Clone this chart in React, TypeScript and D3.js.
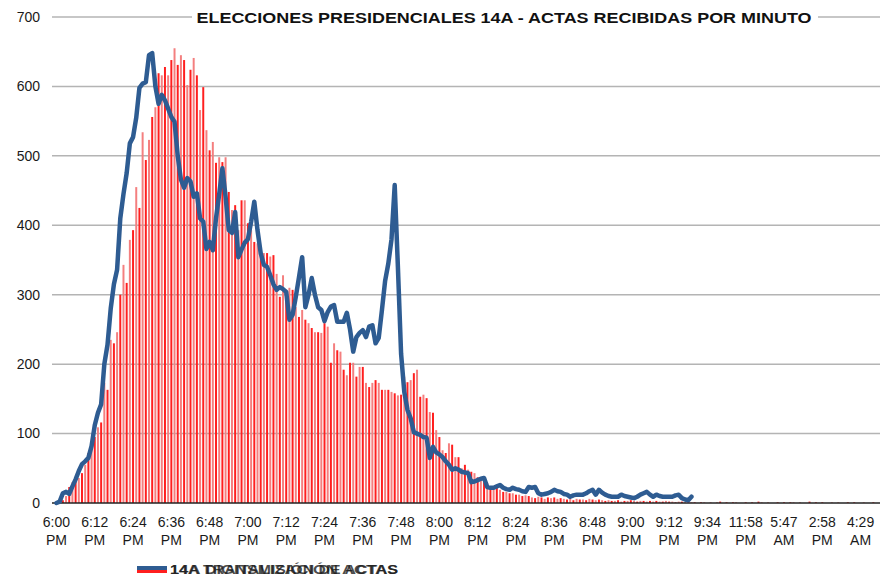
import * as d3 from 'd3';
import React, { useEffect, useRef } from 'react';

// actas recibidas por minuto (barras), desde las 6:00 PM
const receivedPerMinute = [
  0, 0, 4, 10, 23, 30, 33, 36, 43, 55, 72, 86, 95, 109, 116, 173, 163, 235, 230, 246,
  300, 343, 317, 379, 393, 455, 425, 534, 494, 523, 556, 570, 619, 616, 628, 616, 638, 655, 631, 645,
  638, 602, 624, 641, 616, 566, 599, 537, 508, 520, 490, 498, 491, 498, 448, 422, 429, 393, 436, 436,
  403, 393, 376, 374, 364, 360, 360, 355, 357, 330, 297, 328, 307, 310, 307, 282, 268, 278, 264, 259,
  252, 246, 246, 245, 259, 254, 202, 230, 220, 218, 192, 184, 202, 202, 182, 196, 196, 173, 167, 173,
  177, 173, 163, 163, 163, 160, 158, 155, 156, 182, 174, 177, 187, 192, 153, 156, 151, 131, 130, 105,
  95, 76, 72, 86, 84, 66, 66, 50, 55, 48, 45, 43, 37, 33, 30, 29, 23, 22, 23, 19,
  16, 16, 14, 14, 12, 12, 10, 11, 10, 8, 7, 9, 8, 6, 8, 7, 8, 6, 7, 6,
  5, 6, 4, 6, 5, 5, 4, 6, 5, 4, 5, 4, 3, 4, 3, 3, 4, 2, 3, 3,
  4, 3, 2, 3, 3, 2, 3, 2, 3, 2, 2, 3, 2, 2, 1, 2, 2, 1, 2, 1,
  1, 0, 1, 1, 0, 1, 0, 1, 2, 0, 1, 0, 1, 1, 0, 0, 1, 0, 1, 0,
  2, 1, 0, 1, 0, 0, 1, 0, 1, 0, 1, 1, 0, 1, 0, 0, 2, 0, 1, 0,
  1, 0, 0, 1, 0, 1, 0, 0, 1, 0, 1, 0, 0, 1, 0, 0, 1, 0,
];

// actas transmitidas por minuto (línea)
const transmittedPerMinute = [
  0, 2, 14, 16, 13, 24, 34, 46, 56, 60, 65, 82, 112, 130, 142, 200, 228, 280, 315, 336,
  410, 445, 475, 518, 527, 555, 598, 604, 606, 645, 648, 600, 575, 588, 580, 568, 556, 549, 500, 466,
  454, 468, 463, 441, 446, 410, 405, 366, 376, 364, 410, 445, 482, 441, 393, 389, 419, 354, 365, 375,
  380, 405, 434, 393, 360, 343, 340, 328, 315, 307, 311, 308, 304, 264, 271, 297, 325, 354, 282, 300,
  324, 300, 282, 278, 262, 275, 283, 285, 261, 261, 261, 274, 250, 218, 239, 245, 249, 239, 254, 256,
  230, 238, 278, 320, 345, 380, 458, 340, 215, 160, 134, 122, 102, 100, 98, 95, 94, 65, 81, 73,
  70, 66, 60, 55, 48, 50, 48, 45, 44, 43, 30, 31, 33, 35, 36, 23, 22, 22, 24, 26,
  22, 20, 19, 22, 20, 19, 17, 16, 23, 22, 23, 14, 12, 13, 14, 16, 19, 17, 16, 13,
  12, 9, 11, 12, 12, 12, 14, 17, 19, 12, 19, 15, 12, 10, 9, 9, 9, 12, 10, 9,
  8, 7, 9, 12, 14, 16, 12, 9, 12, 10, 9, 9, 9, 9, 11, 12, 7, 5, 4, 9,
];

// etiquetas del eje, una cada 12 categorías
const tickLabels = [
  '6:00 PM', '6:12 PM', '6:24 PM', '6:36 PM', '6:48 PM', '7:00 PM', '7:12 PM', '7:24 PM',
  '7:36 PM', '7:48 PM', '8:00 PM', '8:12 PM', '8:24 PM', '8:36 PM', '8:48 PM', '9:00 PM',
  '9:12 PM', '9:34 PM', '11:58 PM', '5:47 AM', '2:58 PM', '4:29 AM',
];
const tickEvery = 12;
const yTicks = [0, 100, 200, 300, 400, 500, 600, 700];

const title = 'ELECCIONES PRESIDENCIALES 14A - ACTAS RECIBIDAS POR MINUTO';
const legendBars = '14A DIGITALIZACIÓN ACTAS';
const legendLine = '14A TRANSMISIÓN DE ACTAS';

const App = () => {
  const svgRef = useRef<SVGSVGElement>(null);

  useEffect(() => {
    const width = 880;
    const height = 576;
    const font = '"Liberation Sans", Arial, sans-serif';

    const svg = d3.select(svgRef.current).attr('width', width).attr('height', height);
    svg.selectAll('*').remove();
    svg.append('rect').attr('width', width).attr('height', height).attr('fill', '#fff');

    const x = d3
      .scaleBand<number>()
      .domain(d3.range(receivedPerMinute.length))
      .range([55, 878])
      .paddingInner(0.38)
      .paddingOuter(0.15);

    const y = d3.scaleLinear().domain([0, 700]).range([503, 17]);

    // líneas de cuadrícula
    svg
      .append('g')
      .selectAll('line')
      .data(yTicks.slice(1))
      .join('line')
      .attr('x1', 52)
      .attr('x2', 880)
      .attr('y1', (d) => y(d))
      .attr('y2', (d) => y(d))
      .attr('stroke', '#b4b4b4')
      .attr('stroke-width', 1.5);

    // etiquetas del eje y
    svg
      .append('g')
      .selectAll('text')
      .data(yTicks)
      .join('text')
      .attr('x', 40)
      .attr('y', (d) => y(d))
      .attr('dy', '0.35em')
      .attr('text-anchor', 'end')
      .attr('font-family', font)
      .attr('font-size', 14)
      .attr('fill', '#1a1a1a')
      .text((d) => d);

    // barras
    svg
      .append('g')
      .selectAll('rect')
      .data(receivedPerMinute)
      .join('rect')
      .attr('x', (_, i) => x(i) as number)
      .attr('width', x.bandwidth())
      .attr('y', (d) => y(d))
      .attr('height', (d) => y(0) - y(d))
      .attr('fill', (_, i) => (i % 2 === 0 ? '#ff1f1f' : '#f47f7f'));

    // eje x
    svg
      .append('line')
      .attr('x1', 52)
      .attr('x2', 880)
      .attr('y1', y(0))
      .attr('y2', y(0))
      .attr('stroke', '#222')
      .attr('stroke-width', 1.5);

    // línea de transmitidas
    const line = d3
      .line<number>()
      .x((_, i) => (x(i) as number) + x.bandwidth() / 2)
      .y((d) => y(d));

    svg
      .append('path')
      .datum(transmittedPerMinute)
      .attr('d', line)
      .attr('fill', 'none')
      .attr('stroke', '#2e5c92')
      .attr('stroke-width', 4.5)
      .attr('stroke-linejoin', 'round')
      .attr('stroke-linecap', 'round');

    // etiquetas del eje x
    const xLabels = svg
      .append('g')
      .selectAll('text')
      .data(tickLabels)
      .join('text')
      .attr('x', (_, k) => (x(k * tickEvery) as number) + x.bandwidth() / 2)
      .attr('text-anchor', 'middle')
      .attr('font-family', font)
      .attr('font-size', 14)
      .attr('fill', '#1a1a1a');
    xLabels
      .append('tspan')
      .attr('y', 527)
      .text((d) => d.split(' ')[0]);
    xLabels
      .append('tspan')
      .attr('x', (_, k) => (x(k * tickEvery) as number) + x.bandwidth() / 2)
      .attr('y', 545)
      .text((d) => d.split(' ')[1]);

    // título
    svg
      .append('rect')
      .attr('x', 192)
      .attr('y', 8)
      .attr('width', 626)
      .attr('height', 20)
      .attr('fill', '#fff');
    svg
      .append('text')
      .attr('x', 504)
      .attr('y', 23)
      .attr('text-anchor', 'middle')
      .attr('font-family', font)
      .attr('font-size', 14.5)
      .attr('font-weight', 'bold')
      .attr('fill', '#111')
      .attr('textLength', 615)
      .attr('lengthAdjust', 'spacingAndGlyphs')
      .text(title);

    // leyenda (en el original las dos entradas quedan superpuestas)
    const legend = svg.append('g');
    legend
      .append('rect')
      .attr('x', 137)
      .attr('y', 566)
      .attr('width', 30)
      .attr('height', 7)
      .attr('fill', '#ff1f1f');
    legend
      .append('line')
      .attr('x1', 137)
      .attr('x2', 167)
      .attr('y1', 568)
      .attr('y2', 568)
      .attr('stroke', '#2e5c92')
      .attr('stroke-width', 4);
    [legendBars, legendLine].forEach((label) => {
      legend
        .append('text')
        .attr('x', 170)
        .attr('y', 574)
        .attr('font-family', font)
        .attr('font-size', 13)
        .attr('font-weight', 'bold')
        .attr('fill', '#1a1a1a')
        .attr('fill-opacity', 0.8)
        .attr('textLength', 228)
        .attr('lengthAdjust', 'spacingAndGlyphs')
        .text(label);
    });
  }, []);

  return <svg ref={svgRef} style={{ position: 'absolute', left: 0, top: 0 }} />;
};

export default App;
